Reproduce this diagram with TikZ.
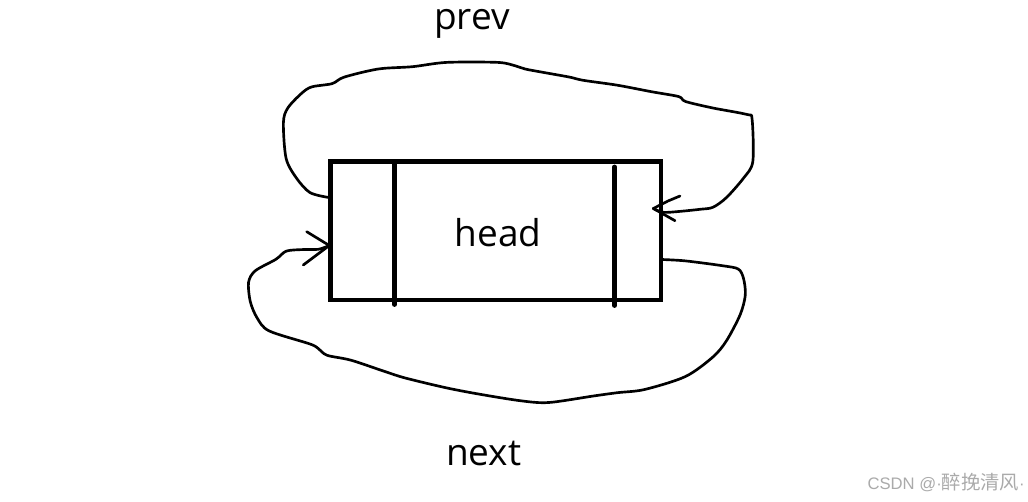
\documentclass[tikz,border=0pt]{standalone}
\usepackage{fontspec}
\setmainfont{Open Sans}
\newfontfamily\cjkfont{Noto Sans CJK SC}
\newfontfamily\wmlatin{Liberation Sans}
\definecolor{wm}{RGB}{170,170,170}
\tikzset{
  loopline/.style={line width=2pt, line cap=round, line join=round},
  boxline/.style={line width=3.4pt},
  barb/.style={line width=2pt, line cap=round},
  lbl/.style={anchor=base, inner sep=0pt, font=\fontsize{27.75}{33}\selectfont},
}
\begin{document}
\begin{tikzpicture}[x=0.75pt, y=-0.75pt]
\useasboundingbox (0,0) rectangle (1028,502);
% box
\node[draw, boxline, minimum width=330.5*0.75pt, minimum height=138.3*0.75pt, inner sep=0pt] (box) at (495.75,230.85) {};
\coordinate (d1t) at (394.5,161.7); \coordinate (d1b) at (394.5,304.5);
\coordinate (d2t) at (614.7,167); \coordinate (d2b) at (614.7,305.5);
\draw[line width=3.6pt, line cap=round] (d1t) -- (d1b);
\draw[line width=3.6pt, line cap=round] (d2t) -- (d2b);
\node[lbl] (headlbl) at (498,246.7) {head};
\node[lbl] (prevlbl) at (472,30) {prev};
\node[lbl] (nextlbl) at (483.7,465) {next};
% connector end points
\coordinate (topstart) at (328.8,197.5);
\coordinate (rtip) at (653.3,208.5);
\coordinate (botstart) at (661.7,259.5);
\coordinate (ltip) at (329.3,245.5);
% top loop (prev)
\draw[loopline] plot[smooth, tension=0.5] coordinates {
 (topstart) (310,192.6) (296.4,178) (286.1,158.4) (283.4,122.6) (287.8,108)
 (301.5,93.4) (311.7,86.9) (332.2,83.6) (344.2,77.1) (378.3,69) (412.4,66.7)
 (446.6,62.4) (497.8,62.4) (514.9,65.7) (525.1,69) (542.2,72.2) (569.5,77.1)
 (583.1,80.3) (617.3,85.2) (651.4,91.7) (678.7,96.6) (685.5,101.5) (712.9,108)
 (747,114.5) (752.1,119.4) (752.8,161.7) (743.6,178) (726.5,197.5) (712.9,207.3)
 (700,209.3) (678.7,211.5) (663,212.3) (rtip)};
\draw[barb] (rtip) -- (668,201) -- (680,196);
\draw[barb] (rtip) -- (675,220.7);
% bottom loop (next)
\draw[loopline] plot[smooth, tension=0.5] coordinates {
 (botstart) (685.5,260.9) (723,265.8) (738.4,269.1) (743.6,278.8) (745.3,295.1)
 (740.2,314.6) (726.5,340.7) (712.9,357) (685.5,376.5) (644.6,389.5) (617.3,392.7)
 (593.4,396) (549,402.5) (521.7,400.9) (480.7,394.4) (446.6,387.9) (405.6,378.1)
 (385.1,371.6) (351,360.2) (327.1,355.3) (318.6,348.8) (310,344) (269.1,330.9)
 (257.1,317.9) (250.3,301.6) (248.6,282.1) (255.4,270.7) (275.9,259.3)
 (286.1,251.2) (301.5,249.6) (318.3,249.3) (ltip)};
\draw[barb] (ltip) -- (306.7,231.7);
\draw[barb] (ltip) -- (303.3,265);
% watermark
\node[anchor=base east, inner sep=0pt, text=wm] (wmark) at (1025,489)
 {{\wmlatin\fontsize{12.5}{15}\selectfont CSDN @·}{\cjkfont\fontsize{14.5}{16}\selectfont 醉挽清风}{\wmlatin\fontsize{12.5}{15}\selectfont ·}};
\end{tikzpicture}
\end{document}
